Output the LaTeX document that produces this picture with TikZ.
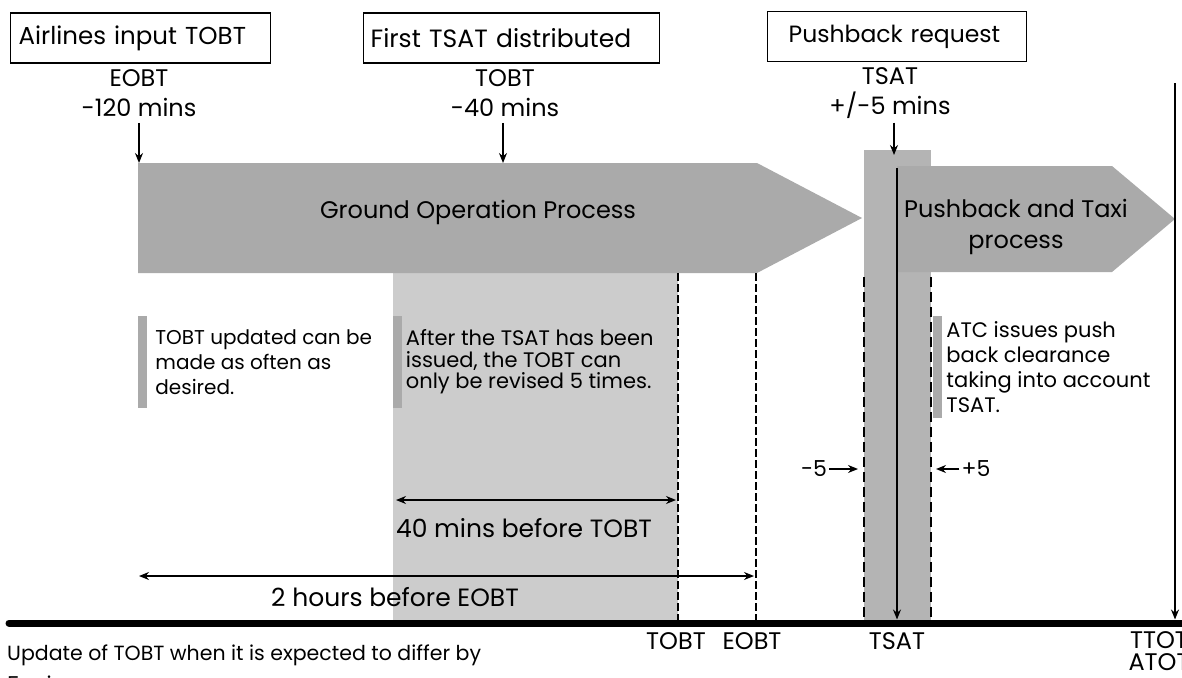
\documentclass[tikz,border=0pt]{standalone}
\usepackage{fontspec}
\setmainfont{Poppins}
\usetikzlibrary{arrows.meta,positioning,calc}
\definecolor{procgray}{HTML}{AAAAAA}
\definecolor{bandgray}{HTML}{B4B4B4}
\definecolor{softgray}{HTML}{CCCCCC}
\tikzset{
  event/.style={
    draw=black, line width=1.3pt, anchor=west,
    minimum height=50pt, inner xsep=8pt, align=left,
    font=\fontsize{24.5}{28}\selectfont
  },
  milestone/.style={align=center, inner sep=2pt, font=\fontsize{24}{30}\selectfont},
  phase/.style={align=center, font=\fontsize{24}{31}\selectfont},
  notebar/.style={fill=procgray, minimum width=9pt, inner sep=0pt},
  note/.style={align=left, inner sep=0pt, font=\fontsize{21}{25}\selectfont},
  stamp/.style={align=center, inner sep=0pt, font=\fontsize{24}{22}\selectfont},
  arrow/.style={-{Stealth[length=10pt,width=8pt]}, line width=1.3pt},
  span/.style={{Stealth[length=10pt,width=8pt]}-{Stealth[length=10pt,width=8pt]}, line width=1.3pt},
  tick/.style={line width=1.3pt, dash pattern=on 8pt off 3pt},
  window/.style={line width=2.8pt, dash pattern=on 10pt off 5pt}
}
\begin{document}
\begin{tikzpicture}[x=1pt, y=-1pt]
  \useasboundingbox (0,0) rectangle (1182,677);

  % shaded phases
  \fill[softgray] (393,273) rectangle (678,623);
  \fill[bandgray] (864,150) rectangle (931,623);
  \fill[procgray] (138,163) -- (757,163) -- (862,218) -- (757,273) -- (138,273) -- cycle;
  \fill[procgray] (897,166) -- (1112,166) -- (1175,219) -- (1112,272) -- (897,272) -- cycle;
  \node[phase] (ground) at (478,212) {Ground Operation Process};
  \node[phase] (taxi) at (1016,227) {Pushback and Taxi\\process};

  % events
  \node[event, text width=244pt] (input) at (10,38) {Airlines input TOBT};
  \node[event, text width=282pt, inner xsep=7pt, font=\fontsize{25}{28}\selectfont] (first) at (363,38) {First TSAT distributed};
  \node[event, text width=217pt, inner xsep=21pt, font=\fontsize{23.5}{28}\selectfont] (request) at (767,36.5) {Pushback request};

  \node[milestone] (eobtmark) at (139,93) {EOBT\\-120 mins};
  \node[milestone] (tobtmark) at (505,93) {TOBT\\-40 mins};
  \node[milestone] (tsatmark) at (890,93) {TSAT\\+/-5 mins};
  \coordinate (eobthit) at (139,163);
  \coordinate (tobthit) at (503,163);
  \coordinate (tsathit) at (894,155);
  \draw[arrow, shorten <=4pt] (eobthit |- eobtmark.south) -- (eobthit);
  \draw[arrow, shorten <=4pt] (tobthit |- tobtmark.south) -- (tobthit);
  \draw[arrow, shorten <=2pt] (tsathit |- tsatmark.south) -- (tsathit);

  % time axis points
  \coordinate (tobt) at (678,623);
  \coordinate (eobt) at (756,623);
  \coordinate (tsat) at (897,623);
  \coordinate (ttot) at (1175,623);

  \draw[tick] (tobt |- 0,273) -- (tobt);
  \draw[tick] (eobt |- 0,273) -- (eobt);
  \draw[window] (864,277) -- (864,623);
  \draw[window] (931,277) -- (931,623);
  \draw[arrow, shorten >=3.5pt] (tsat |- 0,168) -- (tsat);
  \draw[arrow, shorten >=3.5pt] (ttot |- 0,83) -- (ttot);

  % notes
  \node[notebar, minimum height=92pt] (bar1) at (142.5,362) {};
  \node[note, right=8pt of bar1, font=\fontsize{20}{25}\selectfont] (note1) {TOBT updated can be\\made as often as\\desired.};
  \node[notebar, minimum height=92pt] (bar2) at (397,362) {};
  \node[note, right=4pt of bar2, font=\fontsize{21}{21.5}\selectfont] (note2)
    {After the TSAT has been\\issued, the TOBT can\\only be revised 5 times.};
  \node[notebar, minimum height=102pt] (bar3) at (937.5,367) {};
  \node[note, right=4pt of bar3] (note3) {ATC issues push\\back clearance\\taking into account\\TSAT.};

  % window +/-5
  \node[milestone, font=\fontsize{22}{26}\selectfont] (minus) at (814,469) {-5};
  \coordinate (minusend) at (858,469);
  \draw[arrow] (minus) -- (minusend);
  \node[milestone, font=\fontsize{22}{26}\selectfont] (plus) at (976,469) {+5};
  \coordinate (plusend) at (936,469);
  \draw[arrow] (plus) -- (plusend);

  % spans
  \coordinate (fortyL) at (396,500);
  \coordinate (fortyR) at (676,500);
  \draw[span] (fortyL) -- (fortyR);
  \node[phase, font=\fontsize{25}{30}\selectfont] (fortytxt) at (524,528) {40 mins before TOBT};
  \coordinate (twoL) at (139,576);
  \coordinate (twoR) at (754,576);
  \draw[span] (twoL) -- (twoR);
  \node[phase, font=\fontsize{25}{30}\selectfont] (twotxt) at (395,597) {2 hours before EOBT};

  % time axis
  \draw[line width=7pt, line cap=round] (9,623) -- (1190,623);
  \node[stamp] (tobtlbl) at (676,641) {TOBT};
  \node[stamp] (eobtlbl) at (752,641) {EOBT};
  \node[stamp] (tsatlbl) at (897,641) {TSAT};
  \node[stamp] (ttotlbl) at (1159,651) {TTOT\\ATOT};
  \node[note, anchor=north west, font=\fontsize{20.5}{31}\selectfont] (update) at (7,645)
    {Update of TOBT when it is expected to differ by\\5 mins or more};
\end{tikzpicture}
\end{document}
